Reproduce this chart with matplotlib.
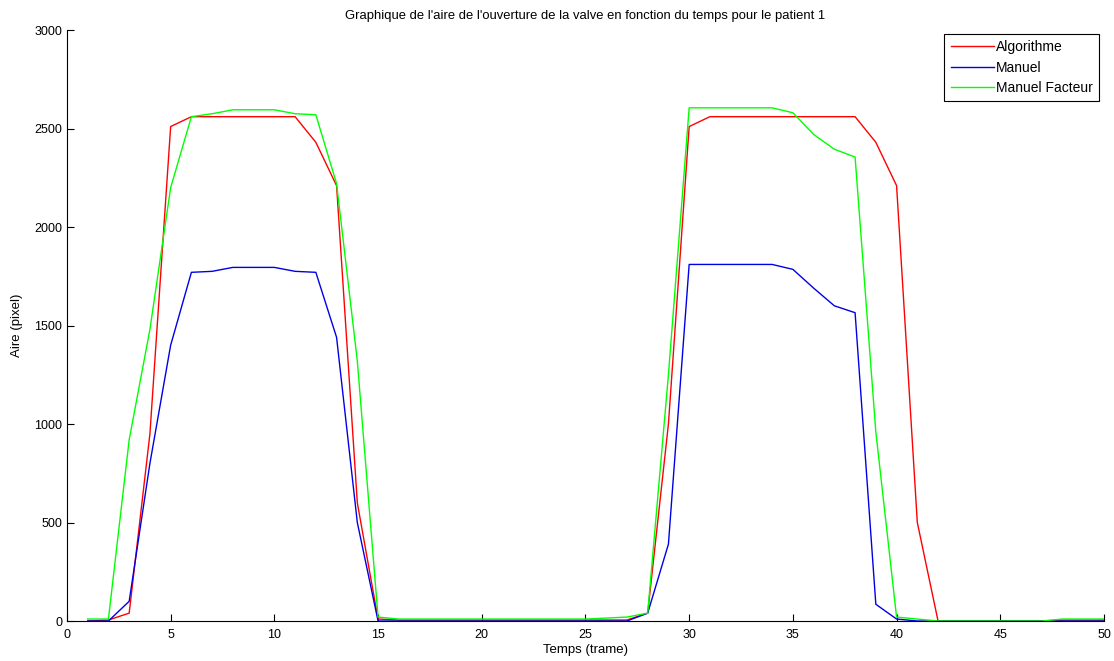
import numpy as np
import matplotlib
matplotlib.use("Agg")
from matplotlib import pyplot as plt

plt.rcParams['font.family'] = ['Liberation Sans', 'DejaVu Sans']

trames = np.arange(1, 51)

algorithme = [
    0, 5, 40, 950, 2510, 2560, 2560, 2560, 2560, 2560,
    2560, 2430, 2210, 600, 10, 5, 5, 5, 5, 5,
    5, 5, 5, 5, 5, 5, 5, 40, 1000, 2510,
    2560, 2560, 2560, 2560, 2560, 2560, 2560, 2560, 2430, 2210,
    500, 0, 0, 0, 0, 0, 0, 5, 5, 5,
]
manuel = [
    0, 0, 100, 800, 1400, 1770, 1775, 1795, 1795, 1795,
    1775, 1770, 1440, 500, 0, 0, 0, 0, 0, 0,
    0, 0, 0, 0, 0, 0, 0, 40, 390, 1810,
    1810, 1810, 1810, 1810, 1785, 1690, 1600, 1565, 85, 10,
    0, 0, 0, 0, 0, 0, 0, 0, 0, 0,
]
manuel_facteur = [
    10, 10, 920, 1480, 2200, 2560, 2575, 2595, 2595, 2595,
    2575, 2570, 2220, 1320, 20, 10, 10, 10, 10, 10,
    10, 10, 10, 10, 10, 15, 20, 40, 1250, 2605,
    2605, 2605, 2605, 2605, 2580, 2470, 2395, 2355, 960, 20,
    10, 0, 0, 0, 0, 0, 0, 10, 10, 10,
]

fig = plt.figure(figsize=(11.14, 6.61), dpi=100)
ax = fig.add_axes([0.0601, 0.0605, 0.9309, 0.8941])

ax.plot(trames, algorithme, color="#ff0000", linewidth=1.0, label="Algorithme")
ax.plot(trames, manuel, color="#0000e6", linewidth=1.0, label="Manuel")
ax.plot(trames, manuel_facteur, color="#00ff00", linewidth=1.0, label="Manuel Facteur")

ax.set_xlim(0, 50)
ax.set_ylim(0, 3000)
ax.set_xticks(np.arange(0, 51, 5))
ax.set_yticks(np.arange(0, 3001, 500))
ax.tick_params(direction="in", length=5, labelsize=9)
ax.tick_params(axis="x", pad=6)
ax.spines["top"].set_visible(False)
ax.spines["right"].set_visible(False)

ax.set_title("Graphique de l'aire de l'ouverture de la valve en fonction du temps pour le patient 1",
             fontsize=9.4, pad=8)
ax.set_xlabel("Temps (trame)", fontsize=9.5, labelpad=2)
ax.set_ylabel("Aire (pixel)", fontsize=9.5, labelpad=8)

leg = ax.legend(loc="upper right", fontsize=10, fancybox=False, framealpha=1,
                edgecolor="black", handlelength=3.1, borderpad=0.45,
                labelspacing=0.45, handletextpad=0.15, borderaxespad=0,
                bbox_to_anchor=(0.9952, 0.9932))
leg.get_frame().set_linewidth(0.8)

fig.savefig("out.png", dpi=100)
